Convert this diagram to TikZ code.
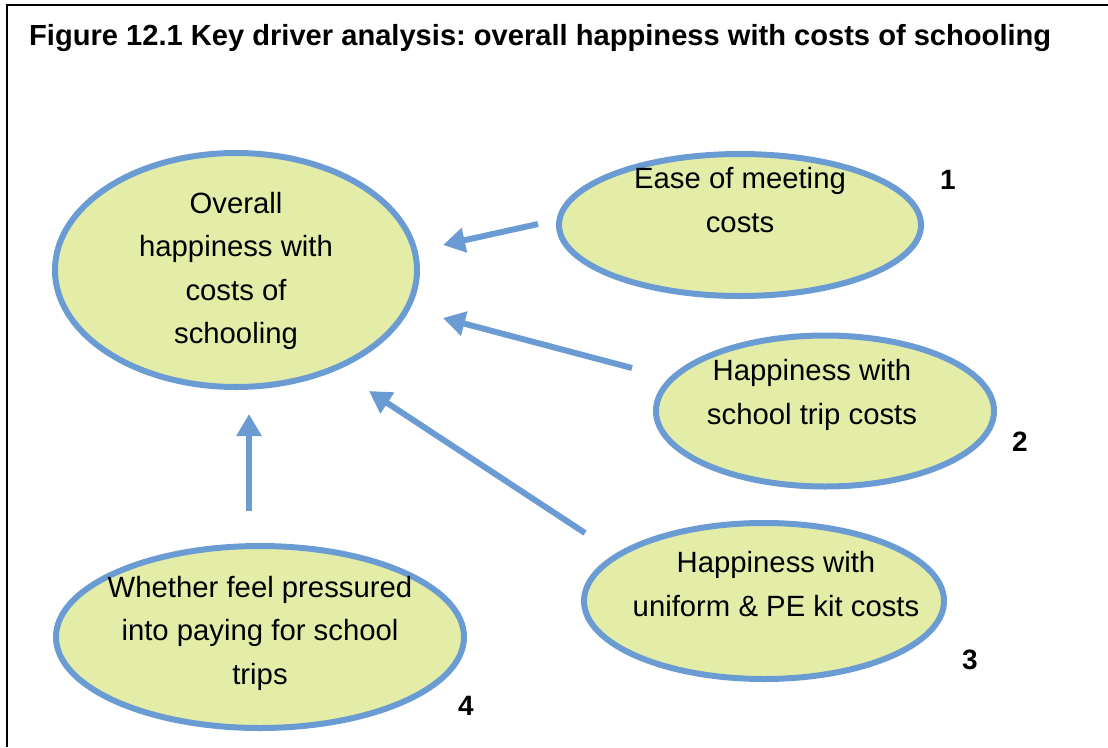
\documentclass[tikz,border=0pt]{standalone}
\usepackage{fontspec}
\setmainfont{Liberation Sans}
\usetikzlibrary{arrows.meta,shapes.geometric}
\frenchspacing
\definecolor{fillc}{HTML}{E4EDA7}
\definecolor{edgec}{HTML}{6A9BD3}
\tikzset{
  bubble/.style={ellipse, draw=edgec, line width=6pt, fill=fillc, inner sep=0pt},
  txt/.style={align=center, font=\fontsize{29.3}{43.5}\selectfont, inner sep=0pt},
  num/.style={font=\fontsize{28}{30}\selectfont\bfseries, inner sep=0pt},
  arr/.style={draw=edgec, line width=6pt, -{Triangle[length=22pt,width=24pt]}},
}
\begin{document}
\begin{tikzpicture}[x=1pt,y=-1pt]
\useasboundingbox (0,0) rectangle (1108,747);
\draw[black, line width=2pt] (6.5,747) -- (6.5,4.5) -- (1108,4.5);
\node[anchor=base west, font=\fontsize{29.1}{32}\selectfont\bfseries, inner sep=0pt] (title) at (29,45) {Figure 12.1 Key driver analysis: overall happiness with costs of schooling};

\node[bubble, minimum width=362pt, minimum height=234pt] (e0) at (236,270) {};
\node[bubble, minimum width=362pt, minimum height=142pt] (e1) at (740,225) {};
\node[bubble, minimum width=338pt, minimum height=151pt] (e2) at (825,411) {};
\node[bubble, minimum width=360pt, minimum height=156pt] (e3) at (764,601) {};
\node[bubble, minimum width=408pt, minimum height=182pt] (e4) at (260,637) {};

\node[txt] (t0) at (236,271) {Overall\\happiness with\\costs of\\schooling};
\node[txt] (t1) at (740,200) {Ease of meeting\\costs};
\node[txt] (t2) at (812,395) {Happiness with\\school trip costs};
\node[txt] (t3) at (776,584) {Happiness with\\uniform \& PE kit costs};
\node[txt] (t4) at (260,633) {Whether feel pressured\\into paying for school\\trips};

\node[num] (n1) at (948,180) {1};
\node[num] (n2) at (1020,442) {2};
\node[num] (n3) at (970,660) {3};
\node[num] (n4) at (466,706) {4};

\coordinate (s1) at (538,224); \coordinate (d1) at (443,245);
\coordinate (s2) at (632,368); \coordinate (d2) at (443,318);
\coordinate (s3) at (585,533); \coordinate (d3) at (369,391);
\coordinate (s4) at (249,511); \coordinate (d4) at (249,414);
\draw[arr] (s1) -- (d1);
\draw[arr] (s2) -- (d2);
\draw[arr] (s3) -- (d3);
\draw[arr] (s4) -- (d4);
\end{tikzpicture}
\end{document}
